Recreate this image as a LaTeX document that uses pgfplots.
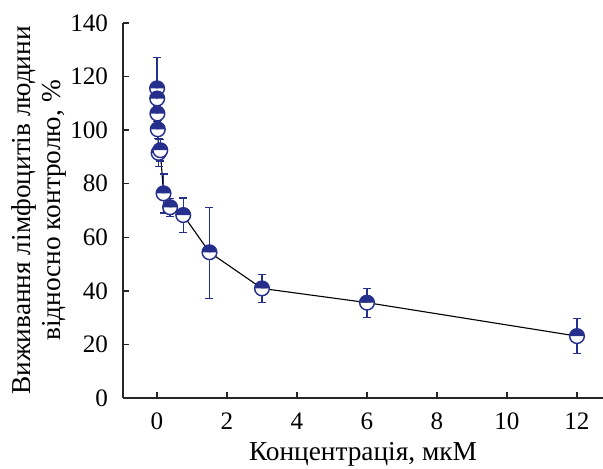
\documentclass[border=0pt]{standalone}
\usepackage{fontspec}
\setmainfont{Liberation Serif}
\usepackage{pgfplots}
\pgfplotsset{compat=1.18}
\usepackage{pgfplotstable}
\usetikzlibrary{plotmarks}
\definecolor{dotblue}{RGB}{38,48,140}

% concentration, survival, error plus, error minus
\pgfplotstableread{
x      y      ep    em
0.003  115.6  11.5  11.5
0.006  111.8  3.0   3.0
0.012  106.2  3.0   3.0
0.023  100.3  3.4   3.4
0.047  91.5   5.2   5.2
0.094  92.5   4.0   4.0
0.1875 76.4   7.2   7.3
0.375  71.2   3.3   3.3
0.75   68.3   6.4   6.6
1.5    54.4   16.6  17.4
3      40.9   5.2   5.3
6      35.6   5.3   5.5
12     23.1   6.6   6.4
}\survival

\begin{document}
\begin{tikzpicture}
\begin{axis}[
  scale only axis,
  width=216pt, height=168.75pt,
  xmin=-0.971, xmax=12.743,
  ymin=0, ymax=140,
  xtick={0,2,...,12},
  ytick={0,20,...,140},
  axis x line=bottom, axis y line=left,
  axis line style={-, line width=0.7pt, black!85},
  tick align=inside,
  major tick length=2.7pt,
  tick style={line width=0.6pt, black!85},
  /pgf/number format/assume math mode=true,
  tick label style={font=\fontsize{11.3}{13}\selectfont},
  yticklabel style={xshift=-3.2pt},
  xticklabel style={yshift=-3pt},
  label style={font=\fontsize{12.3}{13.5}\selectfont},
  xlabel={Концентрація, мкМ},
  ylabel={Виживання лімфоцитів людини\\відносно контролю, \%},
  ylabel style={align=center, at={(axis description cs:-0.102,0.5)}, anchor=south},
  xlabel style={at={(axis description cs:0.5,-0.098)}, anchor=north},
  clip=false,
]
% connecting line
\addplot[black, line width=0.5pt] table[x=x, y=y] {\survival};
% error bars only
\addplot[
  dotblue, draw=none, mark=none,
  error bars/.cd, y dir=both, y explicit,
  error bar style={dotblue, line width=0.55pt},
  error mark options={rotate=90, mark size=1.8pt, dotblue, line width=0.55pt},
] table[x=x, y=y, y error plus=ep, y error minus=em] {\survival};
% half-filled markers on top
\addplot[
  dotblue, only marks,
  mark=halfcircle*, mark size=3.3pt,
  mark options={draw=dotblue, fill=white, mark color=dotblue, rotate=180, line width=0.65pt},
] table[x=x, y=y] {\survival};
\end{axis}
\pgfresetboundingbox
\path[use as bounding box] (-55.35pt,-31.95pt) rectangle (216pt,179.1pt);
\end{tikzpicture}
\end{document}
